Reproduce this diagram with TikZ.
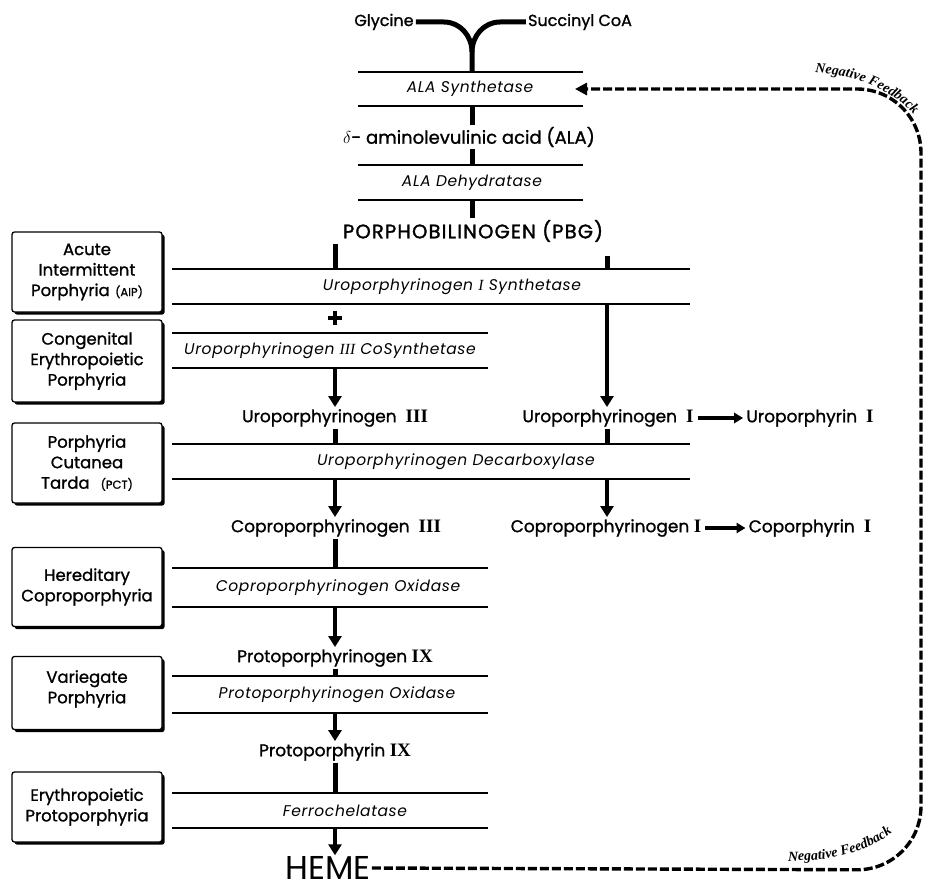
\documentclass[tikz,border=0pt]{standalone}
\usepackage{fontspec}
\setmainfont{Poppins}
\newfontfamily\medFont{Poppins}[FakeBold=1.2]
\newfontfamily\capsFont{Poppins}[FakeBold=1.6, LetterSpace=6]
\newfontfamily\enzFamily{Poppins}[LetterSpace=4]
\newfontfamily\numFont{Liberation Serif}
\newfontfamily\noteFont{Liberation Serif}
\usetikzlibrary{positioning, calc, arrows.meta, shadows, decorations.text}
\newcommand{\metabFont}{\medFont\fontsize{17}{19}\selectfont}
\newcommand{\enzFont}{\enzFamily\fontsize{15.5}{17}\selectfont\itshape}
\newcommand{\boxFont}{\medFont\fontsize{16.5}{20.5}\selectfont}
\newcommand{\rn}[1]{{\numFont\fontsize{19}{19}\selectfont\bfseries #1}}
\newcommand{\rnIt}[1]{{\numFont\itshape #1}}
\newcommand{\abbr}[1]{{\fontsize{11.5}{12}\selectfont #1}}
\newcommand{\noteStyle}{\noteFont\bfseries\itshape\fontsize{14}{14}\selectfont}
\tikzstyle{metab} = [font=\metabFont, inner sep=2pt]
\tikzstyle{enzymeText} = [font=\enzFont, inner sep=0pt]
\tikzstyle{bandLine} = [line width=1.4pt]
\tikzstyle{stem} = [line width=5pt]
\tikzstyle{flow} = [line width=4pt, -{Triangle[length=11pt, width=13pt]}]
\tikzstyle{sideFlow} = [line width=3.5pt, -{Triangle[length=9pt, width=10pt]}, shorten <=2pt, shorten >=1pt]
\tikzstyle{plusStroke} = [line width=4.5pt]
\tikzstyle{diseaseBox} = [draw, fill=white, line width=1.3pt, rounded corners=2.5pt, font=\boxFont, align=center, text width=144pt, inner sep=3pt, drop shadow={shadow xshift=2.6pt, shadow yshift=-2.6pt, fill=black, opacity=1}]
\tikzstyle{feedback} = [line width=3.4pt, dash pattern=on 9pt off 3pt, rounded corners=64pt, -{Triangle[length=12pt, width=12pt]}]
\tikzstyle{feedbackNote} = [decorate, decoration={text along path, text align=left, text format delimiters={|}{|}}]
% band: name, left, right, top, bottom, text x, text
\newcommand{\enzymeBand}[7]{
  \draw [bandLine] (#2, #4) -- (#3, #4);
  \draw [bandLine] (#2, #5) -- (#3, #5);
  \node [enzymeText] (#1) at (#6, {(#4 + #5) / 2}) {#7};
  \coordinate (#1Top) at (#6, #4);
  \coordinate (#1Bot) at (#6, #5);
}
\begin{document}
\begin{tikzpicture}[x=1pt, y=-1pt]
  \useasboundingbox (0,0) rectangle (930,891);
  \coordinate (leftCol) at (335,0);
  \coordinate (rightCol) at (607,0);

  % top of the pathway
  \node [metab, font=\medFont\fontsize{16}{18}\selectfont] (gly) at (384,22) {Glycine};
  \node [metab, font=\medFont\fontsize{16}{18}\selectfont] (suc) at (580,22) {Succinyl CoA};
  \enzymeBand{asyn}{358}{583}{72}{106}{470}{ALA Synthetase}
  \draw [stem] (gly.east) -- (444,22) to[out=0, in=90] (472,52) -- (asynTop -| 472,0);
  \draw [stem] (suc.west) -- (500,22) to[out=180, in=90] (472,52);
  \node [metab, font=\medFont\fontsize{18}{19}\selectfont] (ala) at (469,137) {$\delta$- aminolevulinic acid (ALA)};
  \draw [stem] (asynBot -| 472,0) -- (ala.north -| 472,0);
  \enzymeBand{adeh}{358}{583}{165}{200}{472}{ALA Dehydratase}
  \draw [stem] (ala.south -| adehTop) -- (adehTop);
  \node [metab, font=\capsFont\fontsize{19.5}{21}\selectfont] (pbg) at (473,231) {PORPHOBILINOGEN (PBG)};
  \draw [stem] (adehBot) -- (pbg.north -| adehBot);

  % uroporphyrinogen step
  \enzymeBand{usyn}{172}{690}{269}{304}{452}{Uroporphyrinogen \rnIt{I} Synthetase}
  \draw [stem] (pbg.south -| leftCol) -- (usynTop -| leftCol);
  \draw [stem] ($(pbg.south -| rightCol) + (0,12)$) -- (usynTop -| rightCol);
  \coordinate (plus) at (335,318);
  \draw [plusStroke] (plus) ++(-7,0) -- ++(14,0) (plus) ++(0,-7) -- ++(0,14);
  \enzymeBand{cosyn}{172}{488}{333}{368}{330}{Uroporphyrinogen \rnIt{III} CoSynthetase}
  \node [metab] (uroIII) at (335,418) {Uroporphyrinogen \ \rn{III}};
  \node [metab] (uroI) at (608,418) {Uroporphyrinogen \ \rn{I}};
  \node [metab] (uroIp) at (810,418) {Uroporphyrin \ \rn{I}};
  \draw [flow] (cosynBot -| leftCol) -- (uroIII.north -| leftCol);
  \draw [flow] (usynBot -| rightCol) -- (uroI.north -| rightCol);
  \draw [sideFlow] (uroI) -- (uroIp);

  % decarboxylase
  \enzymeBand{decarb}{172}{690}{444}{479}{456}{Uroporphyrinogen Decarboxylase}
  \draw [stem] (uroIII.south -| leftCol) -- (decarbTop -| leftCol);
  \draw [stem] (uroI.south -| rightCol) -- (decarbTop -| rightCol);
  \node [metab] (coproIII) at (336,528) {Coproporphyrinogen \ \rn{III}};
  \node [metab] (coproI) at (606,528) {Coproporphyrinogen \rn{I}};
  \node [metab] (coproIp) at (810,528) {Coporphyrin \ \rn{I}};
  \draw [flow] (decarbBot -| leftCol) -- (coproIII.north -| leftCol);
  \draw [flow] (decarbBot -| rightCol) -- (coproI.north -| rightCol);
  \draw [sideFlow] (coproI) -- (coproIp);

  % down to heme
  \enzymeBand{coprox}{172}{488}{568}{607}{338}{Coproporphyrinogen Oxidase}
  \draw [stem] (coproIII.south -| leftCol) -- (coproxTop -| leftCol);
  \node [metab] (protogen) at (335,658) {Protoporphyrinogen \rn{IX}};
  \draw [flow] (coproxBot -| leftCol) -- (protogen.north -| leftCol);
  \enzymeBand{protox}{172}{488}{676}{713}{337}{Protoporphyrinogen Oxidase}
  \draw [stem] (protogen.south -| leftCol) -- (protoxTop -| leftCol);
  \node [metab] (protoIX) at (335,752) {Protoporphyrin \rn{IX}};
  \draw [flow] (protoxBot -| leftCol) -- (protoIX.north -| leftCol);
  \enzymeBand{ferro}{172}{488}{793}{828}{345}{Ferrochelatase}
  \draw [stem] (protoIX.south -| leftCol) -- (ferroTop -| leftCol);
  \node [metab, font=\fontsize{33}{34}\selectfont, inner sep=1pt] (heme) at (328,868) {HEME};
  \draw [flow] (ferroBot -| leftCol) -- (heme.north -| leftCol);

  % diseases
  \node [diseaseBox, minimum height=80pt] (aip) at (87,272) {Acute\\Intermittent\\Porphyria \abbr{(AIP)}};
  \node [diseaseBox, minimum height=82pt] (cep) at (87,361) {Congenital\\Erythropoietic\\Porphyria};
  \node [diseaseBox, minimum height=80pt] (pct) at (87,463) {Porphyria\\Cutanea\\Tarda \ \abbr{(PCT)}};
  \node [diseaseBox, minimum height=79pt] (hcp) at (87,587) {Hereditary\\Coproporphyria};
  \node [diseaseBox, minimum height=73pt, text depth=33pt] (vp) at (87,693) {Variegate\\Porphyria};
  \node [diseaseBox, minimum height=70pt] (epp) at (87,807) {Erythropoietic\\Protoporphyria};

  % feedback loop
  \coordinate (fbTarget) at (575,89);
  \draw [feedback] (heme.east) -- (921,870) -- (921,89) -- (fbTarget);
  \path [feedbackNote, decoration={text={|\noteStyle|Negative Feedback}}]
    (815,73) .. controls (852,75) and (888,86) .. (915,116);
  \path [feedbackNote, decoration={text={|\noteStyle|Negative Feedback}}]
    (788,861) .. controls (842,861) and (885,850) .. (918,806);
\end{tikzpicture}
\end{document}
